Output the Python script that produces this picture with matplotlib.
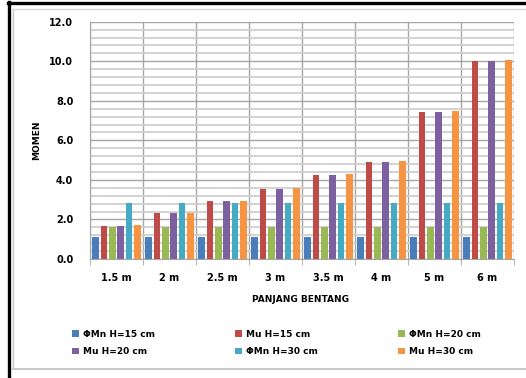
import matplotlib
matplotlib.use("Agg")
import matplotlib.pyplot as plt
from matplotlib.lines import Line2D
import numpy as np

categories = ["1.5 m", "2 m", "2.5 m", "3 m", "3.5 m", "4 m", "5 m", "6 m"]
series_names = ["ΦMn H=15 cm", "Mu H=15 cm", "ΦMn H=20 cm",
                "Mu H=20 cm", "ΦMn H=30 cm", "Mu H=30 cm"]
phi_mn_15 = [1.10, 1.10, 1.10, 1.10, 1.10, 1.10, 1.10, 1.10]
mu_15 = [1.68, 2.31, 2.93, 3.54, 4.24, 4.93, 7.42, 10.00]
phi_mn_20 = [1.62, 1.62, 1.62, 1.62, 1.62, 1.62, 1.62, 1.62]
mu_20 = [1.68, 2.31, 2.93, 3.54, 4.24, 4.93, 7.42, 10.00]
phi_mn_30 = [2.83, 2.83, 2.83, 2.83, 2.83, 2.83, 2.83, 2.83]
mu_30 = [1.73, 2.33, 2.95, 3.60, 4.28, 4.98, 7.47, 10.08]
colors = ["#4A7EBB", "#BE4B48", "#98B954", "#7D60A0", "#46AAC5", "#F59443"]

series = [phi_mn_15, mu_15, phi_mn_20, mu_20, phi_mn_30, mu_30]

W, H = 526, 378
fig = plt.figure(figsize=(W / 100, H / 100), dpi=100)
fig.patch.set_facecolor("white")

def fx(px):
    return px / W

def fy(py):
    return 1 - py / H

# outer frame and chart-area border
fig.add_artist(Line2D([fx(9.5), fx(9.5)], [fy(2), fy(378)], color="black", lw=2.4))
fig.add_artist(Line2D([fx(8), fx(526)], [fy(3.2), fy(3.2)], color="black", lw=2.4))
fig.add_artist(Line2D([fx(12.5), fx(12.5)], [fy(9), fy(369)], color="#c8c8c8", lw=1.0))
fig.add_artist(Line2D([fx(12.5), fx(526)], [fy(9), fy(9)], color="#d8d8d8", lw=1.0))
fig.add_artist(Line2D([fx(12.5), fx(526)], [fy(369), fy(369)], color="#c8c8c8", lw=1.4))

ax = fig.add_axes([fx(90), fy(259), fx(514) - fx(90), fy(21.7) - fy(259)])

n = len(categories)
x = np.arange(n)
pitch = 0.157
width = 0.125
handles = []
for i, (vals, c) in enumerate(zip(series, colors)):
    offs = (i - 2.5) * pitch
    b = ax.bar(x + offs, vals, width=width, color=c, edgecolor="none",
               label=series_names[i], zorder=3)
    handles.append(b)

ax.set_xlim(-0.5, n - 0.5)
ax.set_ylim(0, 12)
ax.set_yticks(np.arange(0, 12.1, 2.0))
ax.set_yticks(np.arange(0, 12.01, 0.4), minor=True)
ax.set_yticklabels([f"{v:.1f}" for v in np.arange(0, 12.1, 2.0)])
ax.yaxis.grid(True, which="minor", color="#cfcfcf", lw=1.3, zorder=0)
ax.yaxis.grid(True, which="major", color="#a6a6a6", lw=1.0, zorder=1)

ax.set_xticks(x)
ax.set_xticklabels(categories)
ax.set_xticks(np.arange(-0.5, n, 1.0), minor=True)
ax.xaxis.grid(True, which="minor", color="#a6a6a6", lw=1.0, zorder=1)
ax.tick_params(axis="x", which="major", length=0, pad=10)
ax.tick_params(axis="x", which="minor", length=4, color="#a6a6a6")
ax.tick_params(axis="y", which="both", length=0, pad=12)

for lab in ax.get_xticklabels() + ax.get_yticklabels():
    lab.set_fontsize(7)
    lab.set_fontweight("bold")

for s in ["top", "right"]:
    ax.spines[s].set_visible(False)
ax.spines["left"].set_color("#a6a6a6")
ax.spines["bottom"].set_color("#a6a6a6")

fig.text(fx(300), fy(300), "PANJANG BENTANG", ha="center", va="center",
         fontsize=6.5, fontweight="bold")
fig.text(fx(37), fy(140), "MOMEN", ha="center", va="center", rotation=90,
         fontsize=6.5, fontweight="bold")

order = [0, 3, 1, 4, 2, 5]
leg = fig.legend([handles[i] for i in order], [series_names[i] for i in order],
                 ncol=3, loc="upper left", bbox_to_anchor=(fx(64), fy(321.5)),
                 frameon=False, fontsize=6.5, handlelength=0.75, handleheight=0.75,
                 handletextpad=0.45, columnspacing=8.9, labelspacing=0.95)
for t in leg.get_texts():
    t.set_fontweight("bold")

fig.savefig("out.png", dpi=100, facecolor="white")
